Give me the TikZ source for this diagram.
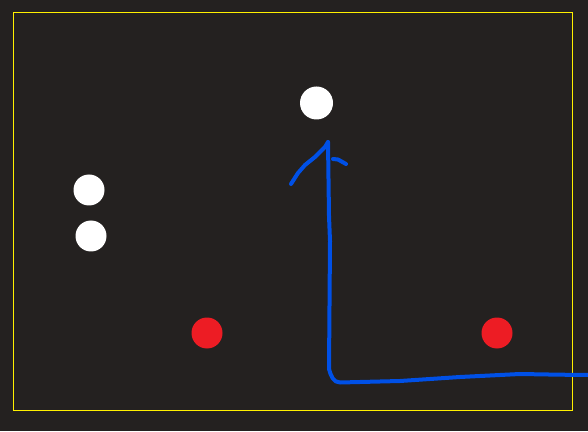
\documentclass[tikz,border=0pt]{standalone}
\definecolor{bg}{RGB}{36,33,32}
\definecolor{frameyellow}{RGB}{255,240,0}
\definecolor{dotred}{RGB}{237,28,36}
\definecolor{penblue}{RGB}{0,80,230}
\begin{document}
\begin{tikzpicture}[x=1pt,y=1pt,
  dotnode/.style={circle,inner sep=0pt,minimum size=#1},
  whitedot/.style={dotnode=31pt,fill=white},
  reddot/.style={dotnode=31pt,fill=dotred},
  pen/.style={draw=penblue,line width=4pt,line cap=round,line join=round}]
\fill[bg] (0,0) rectangle (588,431);
\useasboundingbox (0,0) rectangle (588,431);
\draw[frameyellow,line width=1pt] (13.5,20.5) rectangle (572.5,418.5);
\node[whitedot,minimum size=33pt] (w1) at (316.5,328) {};
\node[whitedot] (w2) at (89,241) {};
\node[whitedot] (w3) at (91,195) {};
\node[reddot] (r1) at (207,98) {};
\node[reddot] (r2) at (497,98) {};
\coordinate (start) at (590,56);
\coordinate (tip) at (328,289);
\draw[pen] (start) -- (560,56.3) -- (520,57) -- (460,54) -- (400,50) -- (340,48.5)
  to[out=180,in=-75] (329,62) -- (330,190) -- (329,215) -- (tip);
\draw[pen] (tip) -- (325,284) -- (315,274) -- (305,266) -- (298,258) -- (291,247);
\draw[pen] (333,272) -- (338,271.5) -- (346,267);
\end{tikzpicture}
\end{document}
